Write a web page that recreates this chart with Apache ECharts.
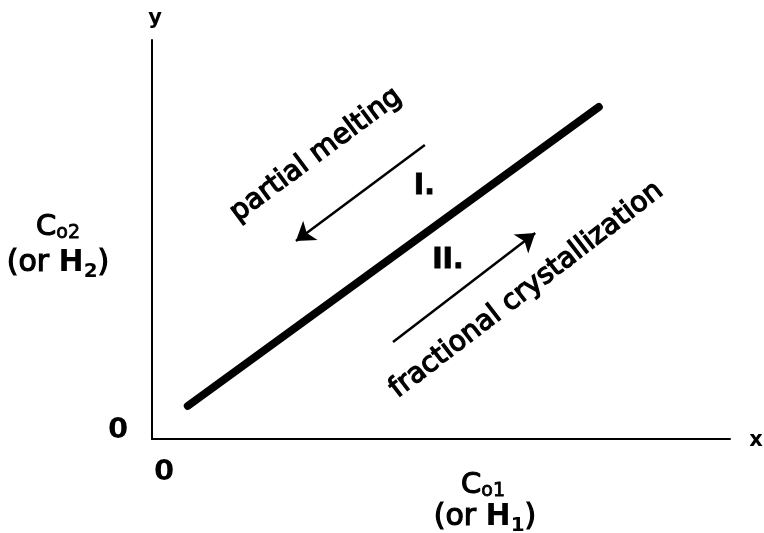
<!DOCTYPE html>
<html>
<head>
<meta charset="utf-8">
<script src="https://cdn.jsdelivr.net/npm/echarts@6/dist/echarts.min.js"></script>
<style>html,body{margin:0;padding:0;background:#fff;}#c{width:764px;height:533px;}</style>
</head>
<body>
<div id="c"></div>
<script>
// ---- data ----
var trendX = [6.2, 77.3];
var trendY = [8.3, 83.2];
var meltArrow = [[47.2, 73.7], [24.9, 49.6]];
var crystArrow = [[41.7, 24.3], [66.3, 51.6]];
var regionLabels = ['I.', 'II.'];
var regionX = [47.1, 51.2];
var regionY = [63.2, 44.6];
var processLabels = ['partial melting', 'fractional crystallization'];
var processX = [28.4, 64.8];
var processY = [71.2, 37.3];
var processAngle = [36.5, 37.5];
var tickLabels = ['0'];
var axisNames = ['x', 'y'];

var FONT = 'DejaVu Sans';
var chart = echarts.init(document.getElementById('c'), null, {renderer: 'canvas'});

var option = {
  backgroundColor: '#ffffff',
  animation: false,
  grid: {left: 152, right: 34, top: 40, bottom: 94},
  xAxis: {
    type: 'value', min: 0, max: 100,
    axisLine: {show: true, lineStyle: {color: '#000', width: 2}},
    axisTick: {show: false}, axisLabel: {show: false}, splitLine: {show: false}
  },
  yAxis: {
    type: 'value', min: 0, max: 100,
    axisLine: {show: true, lineStyle: {color: '#000', width: 2}},
    axisTick: {show: false}, axisLabel: {show: false}, splitLine: {show: false}
  },
  series: [
    {
      type: 'line',
      data: trendX.map(function (x, i) { return [x, trendY[i]]; }),
      symbol: 'none',
      lineStyle: {color: '#000', width: 8, cap: 'round'},
      silent: true
    },
    {
      type: 'lines',
      coordinateSystem: 'cartesian2d',
      symbol: ['none', 'arrow'],
      symbolSize: [12, 18],
      lineStyle: {color: '#000', width: 2.5, opacity: 1},
      data: [{coords: meltArrow}, {coords: crystArrow}],
      silent: true
    },
    {
      type: 'scatter',
      symbolSize: 1,
      itemStyle: {color: 'rgba(0,0,0,0)', opacity: 1},
      data: regionLabels.map(function (t, i) { return {value: [regionX[i], regionY[i]], name: t}; }),
      label: {
        show: true, position: 'inside', formatter: '{b}', opacity: 1,
        color: '#000', fontFamily: FONT, fontWeight: 'bold', fontSize: 28,
        textBorderColor: '#000', textBorderWidth: 0.8
      },
      silent: true
    },
    {
      type: 'scatter',
      symbolSize: 1,
      itemStyle: {color: 'rgba(0,0,0,0)', opacity: 1},
      data: processLabels.map(function (t, i) {
        return {value: [processX[i], processY[i]], name: t, label: {rotate: processAngle[i]}};
      }),
      label: {
        show: true, position: 'inside', formatter: '{b}', opacity: 1,
        color: '#000', fontFamily: FONT, fontSize: 28, textBorderColor: '#000', textBorderWidth: 1.3
      },
      silent: true
    }
  ],
  graphic: [
    {type: 'text', x: 155, y: 19, style: {text: axisNames[1], fontFamily: FONT, fontWeight: 'bold', fontSize: 21, fill: '#000', align: 'center', verticalAlign: 'middle'}},
    {type: 'text', x: 756, y: 441, style: {text: axisNames[0], fontFamily: FONT, fontWeight: 'bold', fontSize: 21, fill: '#000', align: 'center', verticalAlign: 'middle'}},
    {type: 'text', x: 164, y: 472, style: {text: tickLabels[0], fontFamily: FONT, fontWeight: 'bold', fontSize: 29, fill: '#000', align: 'center', verticalAlign: 'middle'}},
    {type: 'text', x: 118, y: 430, style: {text: tickLabels[0], fontFamily: FONT, fontWeight: 'bold', fontSize: 29, fill: '#000', align: 'center', verticalAlign: 'middle'}},
    {type: 'text', x: 58, y: 227, style: {
      text: '{c|C}{s|o2}', align: 'center', verticalAlign: 'middle', fill: '#000',
      rich: {
        c: {fontFamily: FONT, fontSize: 29, lineHeight: 32, verticalAlign: 'middle', fill: '#000', stroke: '#000', lineWidth: 1.2},
        s: {fontFamily: FONT, fontSize: 19, lineHeight: 32, verticalAlign: 'bottom', fill: '#000', stroke: '#000', lineWidth: 0.8}
      }
    }},
    {type: 'text', x: 58, y: 263, style: {
      text: '{a|(or }{b|H}{s|2}{a|)}', align: 'center', verticalAlign: 'middle', fill: '#000',
      rich: {
        a: {fontFamily: FONT, fontSize: 30, lineHeight: 38, verticalAlign: 'middle', fill: '#000', stroke: '#000', lineWidth: 1.2},
        b: {fontFamily: FONT, fontSize: 30, fontWeight: 'bold', lineHeight: 38, verticalAlign: 'middle', fill: '#000'},
        s: {fontFamily: FONT, fontSize: 20, fontWeight: 'bold', lineHeight: 38, verticalAlign: 'bottom', fill: '#000'}
      }
    }},
    {type: 'text', x: 483, y: 485, style: {
      text: '{c|C}{s|o1}', align: 'center', verticalAlign: 'middle', fill: '#000',
      rich: {
        c: {fontFamily: FONT, fontSize: 29, lineHeight: 32, verticalAlign: 'middle', fill: '#000', stroke: '#000', lineWidth: 1.2},
        s: {fontFamily: FONT, fontSize: 19, lineHeight: 32, verticalAlign: 'bottom', fill: '#000', stroke: '#000', lineWidth: 0.8}
      }
    }},
    {type: 'text', x: 485, y: 517, style: {
      text: '{a|(or }{b|H}{s|1}{a|)}', align: 'center', verticalAlign: 'middle', fill: '#000',
      rich: {
        a: {fontFamily: FONT, fontSize: 30, lineHeight: 38, verticalAlign: 'middle', fill: '#000', stroke: '#000', lineWidth: 1.2},
        b: {fontFamily: FONT, fontSize: 30, fontWeight: 'bold', lineHeight: 38, verticalAlign: 'middle', fill: '#000'},
        s: {fontFamily: FONT, fontSize: 20, fontWeight: 'bold', lineHeight: 38, verticalAlign: 'bottom', fill: '#000'}
      }
    }}
  ]
};
chart.setOption(option);
</script>
</body>
</html>
